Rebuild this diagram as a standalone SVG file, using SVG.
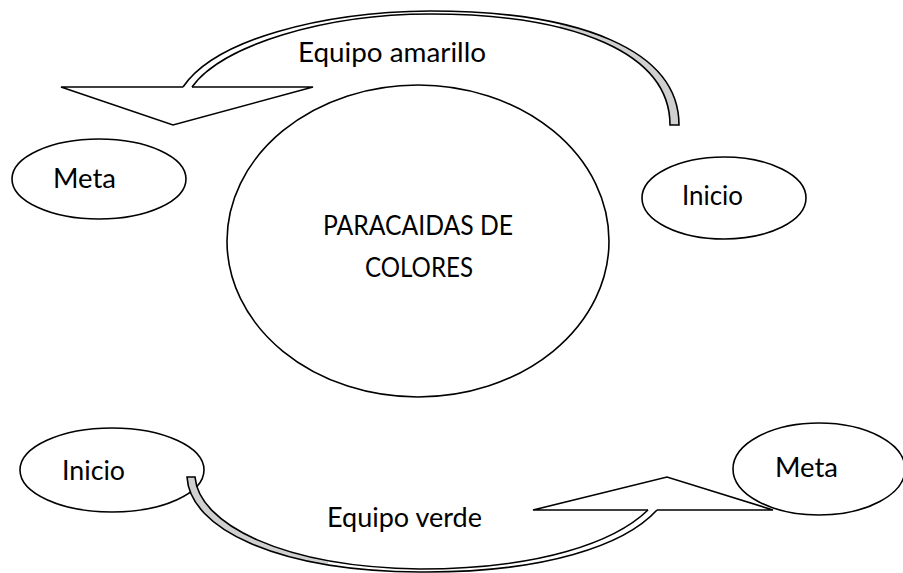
<svg xmlns="http://www.w3.org/2000/svg" width="903" height="573" viewBox="0 0 903 573">
<style>
.shape{fill:#fff;stroke:#000;stroke-width:1.6}
.lbl{font-family:Lato,"Liberation Sans",Arial,sans-serif;font-size:26px;fill:#000}
</style>
<defs>
<linearGradient id="gTop" gradientUnits="userSpaceOnUse" x1="183" y1="0" x2="679" y2="0">
<stop offset="0" stop-color="#fff"/><stop offset="0.76" stop-color="#fff"/><stop offset="0.76" stop-color="#d0d0d0"/><stop offset="1" stop-color="#d0d0d0"/>
</linearGradient>
<linearGradient id="gBot" gradientUnits="userSpaceOnUse" x1="187" y1="0" x2="657" y2="0">
<stop offset="0" stop-color="#d0d0d0"/><stop offset="0.30" stop-color="#d0d0d0"/><stop offset="0.30" stop-color="#fff"/><stop offset="1" stop-color="#fff"/>
</linearGradient>
</defs>
<rect width="903" height="573" fill="#fff"/>
<g id="paracaidas">
<ellipse class="shape" cx="418" cy="241" rx="191" ry="156"/>
<text class="lbl" x="323" y="235" textLength="190" lengthAdjust="spacingAndGlyphs">PARACAIDAS DE</text>
<text class="lbl" x="365" y="277" textLength="108" lengthAdjust="spacingAndGlyphs">COLORES</text>
</g>
<g id="meta-top">
<ellipse class="shape" cx="99" cy="179" rx="87" ry="40"/>
<text class="lbl" x="53" y="188" textLength="63" lengthAdjust="spacingAndGlyphs">Meta</text>
</g>
<g id="inicio-top">
<ellipse class="shape" cx="724" cy="198" rx="82" ry="41"/>
<text class="lbl" x="682" y="205" textLength="61" lengthAdjust="spacingAndGlyphs">Inicio</text>
</g>
<g id="inicio-bottom">
<ellipse class="shape" cx="112" cy="470" rx="92" ry="42"/>
<text class="lbl" x="62" y="480" textLength="63" lengthAdjust="spacingAndGlyphs">Inicio</text>
</g>
<g id="meta-bottom">
<ellipse class="shape" cx="819" cy="469" rx="86" ry="46"/>
<text class="lbl" x="775" y="477" textLength="63" lengthAdjust="spacingAndGlyphs">Meta</text>
</g>
<g id="connectors">
<g id="equipo-amarillo">
<path class="shape" d="M192,87 L313,87 L173,125 L61,87 L183,87"/>
<path d="M192,87 C222,45 325,14 430,14 C575,14 670,53 670,125 L679,125 C679,50 580,11 430,11 C320,12 215,40 183,87" fill="url(#gTop)" stroke="#000" stroke-width="1.6"/>
<text class="lbl" x="298" y="62" textLength="188" lengthAdjust="spacingAndGlyphs">Equipo amarillo</text>
</g>
<g id="equipo-verde">
<path class="shape" d="M657,510 L773,510 L667,477 L533,510 L648,510"/>
<path d="M648,510 C615,542 540,569 420,569 C282,567 199,524 195,477 L187,477 C190,528 275,571 420,572 C545,573 625,545 657,510" fill="url(#gBot)" stroke="#000" stroke-width="1.6"/>
<text class="lbl" x="327" y="527" textLength="155" lengthAdjust="spacingAndGlyphs">Equipo verde</text>
</g>
</g>
</svg>
